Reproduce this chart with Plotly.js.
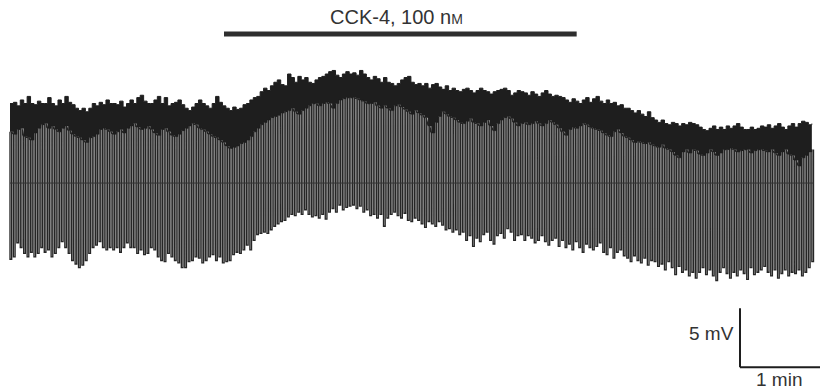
<!DOCTYPE html>
<html>
<head>
<meta charset="utf-8">
<script src="https://cdn.plot.ly/plotly-3.0.1.min.js"></script>
<style>
html,body{margin:0;padding:0;background:#fff;}
#chart{width:821px;height:391px;}
</style>
</head>
<body>
<div id="chart"></div>
<script>
// ---- Data (membrane potential, mV relative to initial resting level; time in s) ----
const pulseIntervalS = 2.57;   // interval between hyperpolarizing current pulses
const pulseWidthS = 1.25;      // duration of each pulse

// Upper edge of the noisy resting-potential band, one value per pulse interval
const bandTopMv = [
  2.5,2.6,2.3,2.8,2.5,3.1,2.5,2.4,2.7,2.5,
  2.5,3.0,2.5,2.3,2.8,2.5,3.1,2.6,2.4,2.1,
  1.9,2.1,1.8,2.1,2.5,2.3,2.6,2.4,2.8,2.5,
  2.5,2.4,2.7,2.2,2.5,2.8,2.5,3.0,3.2,2.7,
  2.5,2.5,2.8,3.1,2.5,3.0,2.3,2.5,2.6,2.8,
  2.4,2.1,1.9,2.2,2.5,2.8,2.5,2.3,2.1,2.5,
  3.1,2.6,2.3,2.1,1.9,2.2,2.0,2.1,2.4,2.5,
  2.8,3.0,3.1,3.5,3.8,3.6,4.0,4.3,4.5,4.1,
  4.0,5.0,4.7,4.3,4.8,4.5,4.7,4.3,4.2,4.5,
  4.7,4.8,5.0,5.2,5.3,4.9,4.7,5.0,5.2,5.0,
  5.1,4.9,5.3,5.0,4.7,4.5,4.8,4.6,4.3,4.7,
  4.3,4.2,4.0,4.2,4.5,4.7,4.8,4.3,4.1,4.2,
  4.0,4.2,3.8,4.1,4.2,3.9,3.7,4.0,3.6,3.8,
  3.6,3.5,3.7,3.8,3.6,3.4,3.6,3.8,3.6,3.5,
  3.3,3.5,3.6,3.7,3.8,3.6,3.2,3.4,3.6,3.5,
  3.4,3.2,3.5,3.3,3.1,3.4,3.6,3.3,3.1,3.2,
  3.1,3.0,2.8,2.6,2.9,2.7,2.5,2.8,3.0,2.6,
  2.9,3.1,2.7,2.5,2.8,2.5,2.6,2.3,2.4,2.1,
  2.1,1.9,1.7,1.9,1.6,1.4,1.8,1.3,1.1,0.9,
  1.1,0.8,0.7,0.9,0.8,0.6,0.8,0.7,0.9,0.8,
  0.7,0.5,0.3,0.2,0.4,0.6,0.3,0.5,0.3,0.6,
  0.4,0.6,0.8,0.5,0.3,0.3,0.5,0.3,0.4,0.6,
  0.5,0.7,0.4,0.6,0.8,0.5,0.3,0.6,0.8,0.5,
  0.8,1.0,0.9,0.7,0.8
];

// Lower edge of the band = level from which each pulse starts
const bandBottomMv = [
  0.1,-0.1,0.3,0.4,-0.3,-0.4,-0.6,0.0,0.4,0.7,
  0.8,0.4,0.6,0.3,0.1,0.4,0.6,0.2,-0.1,-0.3,
  -0.4,-0.6,-0.8,-0.4,-0.3,-0.1,0.3,0.4,0.3,0.1,
  -0.1,0.1,0.3,0.0,0.4,0.6,0.8,0.5,0.3,0.4,
  0.6,0.3,0.0,-0.2,0.3,0.4,0.1,-0.2,-0.3,-0.1,
  0.2,0.4,0.6,0.8,0.7,0.4,0.3,0.1,-0.1,-0.3,
  -0.4,-0.6,-0.8,-1.1,-1.3,-1.2,-1.1,-0.9,-0.8,-0.6,
  -0.3,0.1,0.4,0.7,0.9,1.1,1.3,1.4,1.5,1.7,
  1.8,1.9,2.1,1.8,1.6,1.9,2.1,2.3,2.5,2.5,
  2.3,2.5,2.6,2.5,2.1,2.5,2.8,2.9,3.0,3.0,
  3.0,2.9,2.8,2.7,2.5,2.5,2.6,2.3,2.1,2.3,
  2.1,1.9,2.3,2.4,2.2,2.0,1.8,1.6,1.9,1.7,
  1.5,1.3,0.6,0.0,0.9,1.4,1.8,1.6,1.4,1.3,
  1.1,0.9,0.8,1.0,1.2,0.9,0.8,0.6,0.9,1.1,
  0.6,0.2,0.8,1.1,1.3,1.4,1.2,0.9,0.6,0.8,
  0.9,0.7,0.8,1.0,0.8,0.6,0.8,1.1,0.9,0.7,
  0.4,0.1,-0.2,0.3,0.5,0.4,0.6,0.8,0.7,0.5,
  0.4,0.3,0.2,0.0,-0.2,-0.3,0.1,0.3,0.0,-0.3,
  -0.4,-0.6,-0.8,-0.7,-0.8,-0.9,-0.8,-1.0,-1.1,-1.2,
  -1.0,-1.3,-1.4,-1.6,-1.9,-2.1,-1.6,-1.4,-1.7,-1.4,
  -1.5,-1.8,-1.9,-1.7,-1.4,-1.6,-1.9,-1.7,-1.4,-1.4,
  -1.3,-1.4,-1.6,-1.5,-1.4,-1.4,-1.7,-1.5,-1.4,-1.4,
  -1.5,-1.6,-1.4,-1.7,-1.9,-1.6,-1.4,-1.8,-1.9,-2.3,
  -2.8,-2.1,-1.9,-1.6,-1.4
];

// Peak of each hyperpolarizing electrotonic potential
const pulseBottomMv = [
  -10.7,-10.5,-9.3,-9.7,-10.2,-10.5,-10.1,-10.5,-10.2,-9.7,
  -10.1,-9.9,-10.5,-10.2,-9.7,-9.2,-9.7,-10.2,-10.8,-11.1,
  -11.4,-11.2,-10.8,-10.2,-9.7,-9.5,-9.2,-9.7,-9.9,-9.7,
  -9.9,-9.7,-10.1,-9.7,-9.3,-9.7,-9.7,-10.2,-9.9,-10.3,
  -10.2,-9.7,-9.9,-10.5,-10.8,-10.9,-10.2,-10.5,-10.8,-11.0,
  -11.4,-11.4,-10.9,-10.8,-10.5,-10.6,-11.0,-10.8,-10.5,-10.3,
  -10.8,-10.5,-11.0,-10.9,-10.8,-10.3,-10.1,-10.2,-9.9,-9.5,
  -9.9,-9.1,-8.6,-8.5,-8.4,-8.5,-8.2,-7.9,-7.7,-7.5,
  -7.4,-7.1,-6.9,-7.0,-6.7,-6.9,-6.5,-6.9,-7.1,-7.0,
  -7.2,-6.9,-7.3,-6.7,-6.4,-6.7,-6.1,-6.5,-6.3,-6.2,
  -6.1,-6.4,-6.2,-6.7,-6.5,-7.0,-6.9,-7.2,-6.9,-7.9,
  -7.2,-6.9,-6.7,-7.0,-7.2,-6.8,-7.4,-7.5,-7.2,-7.4,
  -7.7,-8.0,-7.5,-7.7,-7.9,-7.5,-7.8,-8.2,-8.1,-8.4,
  -8.2,-8.6,-8.4,-9.1,-8.7,-9.6,-8.9,-9.2,-8.6,-8.4,
  -9.1,-9.4,-8.7,-8.5,-8.9,-8.1,-8.4,-9.1,-8.7,-8.6,
  -9.1,-8.7,-8.9,-9.3,-9.1,-8.7,-9.2,-9.5,-9.1,-8.9,
  -9.6,-9.1,-9.7,-9.4,-9.9,-9.2,-9.7,-10.1,-9.4,-9.7,
  -9.9,-9.6,-9.3,-10.1,-10.3,-9.7,-10.6,-10.1,-9.9,-10.4,
  -10.6,-10.9,-10.4,-10.8,-11.0,-10.6,-11.2,-10.8,-10.9,-11.3,
  -11.1,-11.6,-10.9,-11.4,-12.0,-11.3,-11.8,-11.6,-12.1,-11.8,
  -12.3,-11.8,-11.4,-12.0,-11.6,-12.1,-12.5,-11.8,-11.4,-11.9,
  -12.3,-11.8,-12.1,-11.6,-11.9,-12.4,-11.4,-12.0,-11.8,-11.6,
  -11.3,-11.8,-12.1,-11.6,-12.3,-11.9,-11.6,-12.1,-11.8,-11.9,
  -11.6,-12.1,-11.8,-11.4,-10.9
];

// Drug application bar and labels
const drugLabel = 'CCK-4, 100 n<span style="font-size:14px">M</span>';
const drugStartS = 160.5;
const drugEndS = 425;

// Scale bars
const scaleBarMv = 5;
const scaleBarS = 60;
const scaleBarMvLabel = '5 mV';
const scaleBarSLabel = '1 min';
const scaleOrigin = {t: 547.5, mv: -19.85};

// ---- Build traces ----
const ink = '#1e1e1e';
const times = pulseBottomMv.map((_, i) => i * pulseIntervalS);

// square-wave pen trace of the pulses
const px = [], py = [];
times.forEach((t, i) => {
  px.push(t, t, t + pulseWidthS, t + pulseWidthS);
  py.push(bandBottomMv[i], pulseBottomMv[i], pulseBottomMv[i], bandBottomMv[i]);
});

const pulseTrace = {
  x: px, y: py, type: 'scatter', mode: 'lines',
  line: {color: '#262626', width: 1.35},
  hoverinfo: 'skip', showlegend: false
};
const bandLow = {
  x: times, y: bandBottomMv, type: 'scatter', mode: 'lines',
  line: {color: ink, width: 0.5, shape: 'hv'},
  hoverinfo: 'skip', showlegend: false
};
const bandHigh = {
  x: times, y: bandTopMv, type: 'scatter', mode: 'lines',
  line: {color: ink, width: 1, shape: 'hv'},
  fill: 'tonexty', fillcolor: ink,
  hoverinfo: 'skip', showlegend: false
};

const W = 821, H = 391;
const font = {family: 'Liberation Sans, Arial, sans-serif', size: 19, color: '#333'};
const layout = {
  width: W, height: H,
  margin: {l: 0, r: 0, t: 0, b: 0},
  paper_bgcolor: '#ffffff', plot_bgcolor: '#ffffff',
  xaxis: {range: [-7.5, 608.25], visible: false, fixedrange: true},
  yaxis: {range: [-21.86, 11.27], visible: false, fixedrange: true},
  showlegend: false,
  shapes: [
    // chart-paper line showing through the pulses
    {type: 'line', xref: 'x', yref: 'y', x0: times[0], x1: times[times.length - 1] + pulseWidthS,
     y0: -4.24, y1: -4.24, line: {color: '#333', width: 1}, layer: 'above'},
    // drug application bar
    {type: 'line', xref: 'x', yref: 'paper', x0: drugStartS, x1: drugEndS,
     y0: 1 - 34 / H, y1: 1 - 34 / H, line: {color: '#2e2e2e', width: 5}},
    // scale bars
    {type: 'line', xref: 'x', yref: 'y', x0: scaleOrigin.t, x1: scaleOrigin.t,
     y0: scaleOrigin.mv, y1: scaleOrigin.mv + scaleBarMv, line: {color: ink, width: 2}},
    {type: 'line', xref: 'x', yref: 'y', x0: scaleOrigin.t, x1: scaleOrigin.t + scaleBarS,
     y0: scaleOrigin.mv, y1: scaleOrigin.mv, line: {color: ink, width: 2}}
  ],
  annotations: [
    {text: drugLabel, xref: 'x', yref: 'paper', x: (drugStartS + drugEndS) / 2 - 3, y: 1 - 17 / H,
     xanchor: 'center', yanchor: 'middle', showarrow: false,
     font: Object.assign({}, font, {size: 20})},
    {text: scaleBarMvLabel, xref: 'x', yref: 'y', x: scaleOrigin.t, y: scaleOrigin.mv + scaleBarMv / 2 + 0.35,
     xanchor: 'right', yanchor: 'middle', xshift: -4, showarrow: false, font: font},
    {text: scaleBarSLabel, xref: 'x', yref: 'y', x: scaleOrigin.t + scaleBarS / 2 - 1, y: scaleOrigin.mv,
     xanchor: 'center', yanchor: 'top', yshift: 0, showarrow: false, font: font}
  ]
};

Plotly.newPlot('chart', [pulseTrace, bandLow, bandHigh], layout, {staticPlot: true, displayModeBar: false});
</script>
</body>
</html>
